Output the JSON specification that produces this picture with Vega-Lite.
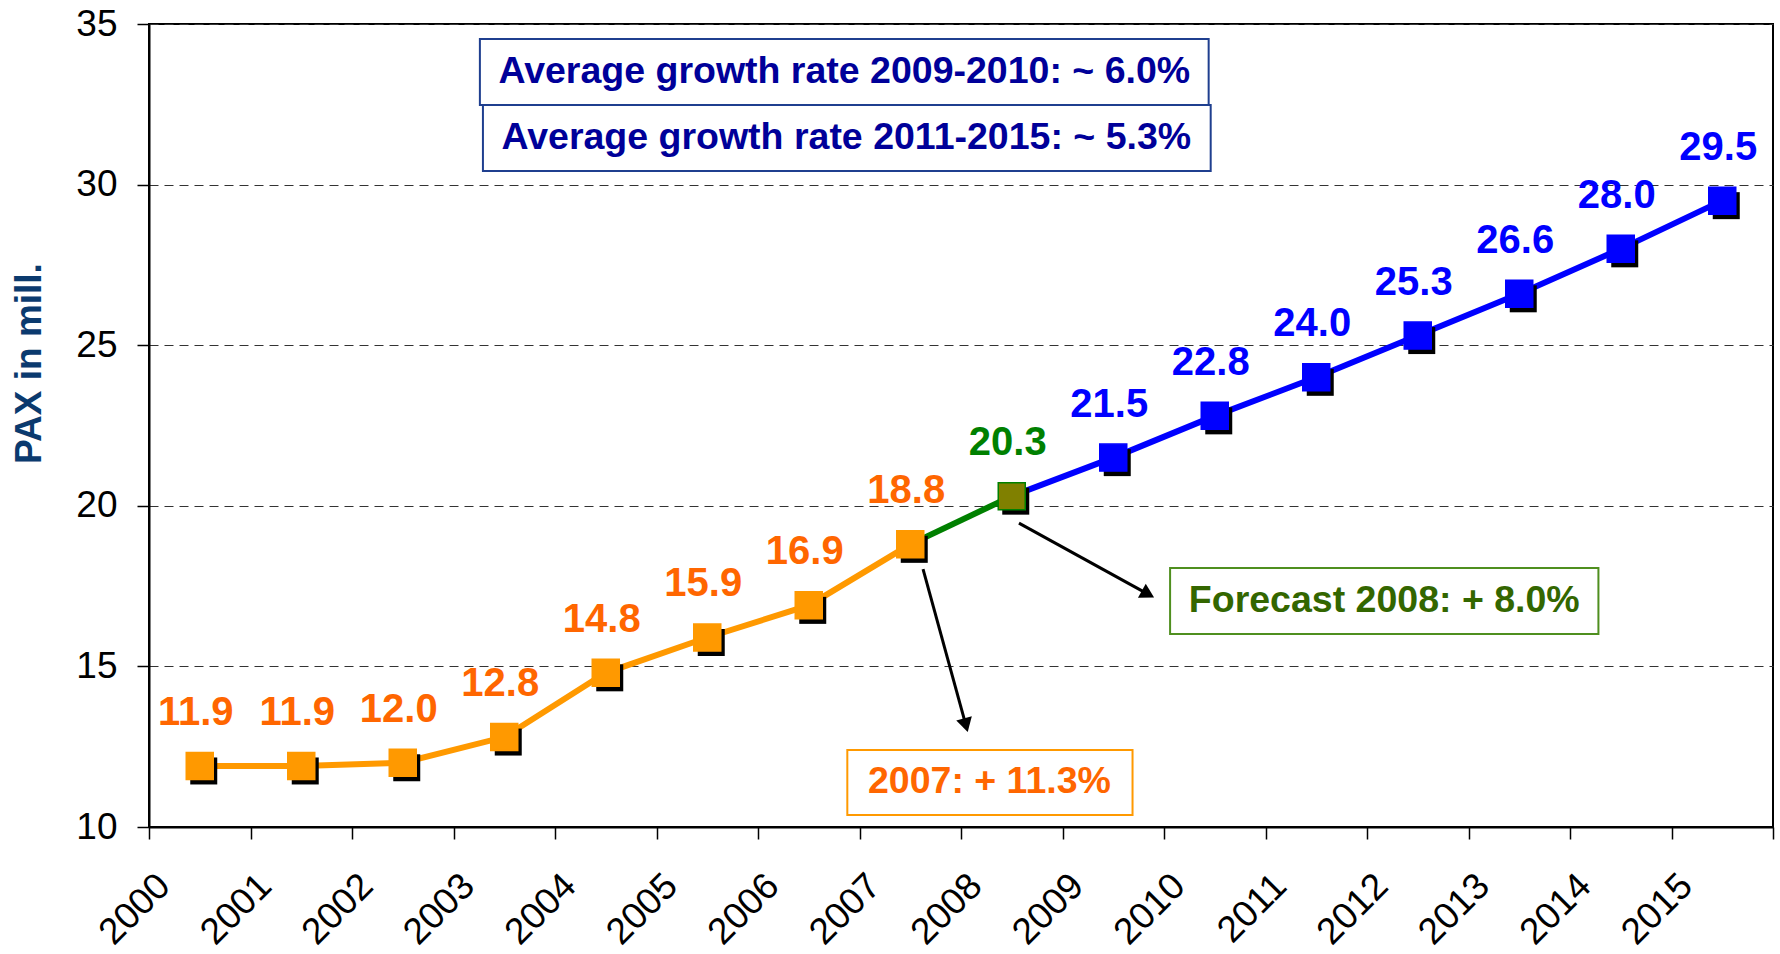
{
  "$schema": "https://vega.github.io/schema/vega-lite/v6.json",
  "width": 1624,
  "height": 803,
  "autosize": {"type": "none"},
  "padding": {"left": 149, "top": 24, "right": 7, "bottom": 127},
  "background": "white",
  "config": {
    "font": "Liberation Sans",
    "view": {"stroke": "black", "strokeWidth": 2},
    "axis": {
      "domainColor": "black", "domainWidth": 2,
      "tickColor": "black", "tickWidth": 1.5, "tickSize": 12,
      "labelColor": "black", "labelFont": "Liberation Sans", "labelFontSize": 37,
      "titleFont": "Liberation Sans"
    }
  },
  "datasets": {
    "pts": [
      {"year": "2000", "pax": 11.9, "grp": "actual"},
      {"year": "2001", "pax": 11.9, "grp": "actual"},
      {"year": "2002", "pax": 12.0, "grp": "actual"},
      {"year": "2003", "pax": 12.8, "grp": "actual"},
      {"year": "2004", "pax": 14.8, "grp": "actual"},
      {"year": "2005", "pax": 15.9, "grp": "actual"},
      {"year": "2006", "pax": 16.9, "grp": "actual"},
      {"year": "2007", "pax": 18.8, "grp": "actual"},
      {"year": "2008", "pax": 20.3, "grp": "2008"},
      {"year": "2009", "pax": 21.5, "grp": "forecast"},
      {"year": "2010", "pax": 22.8, "grp": "forecast"},
      {"year": "2011", "pax": 24.0, "grp": "forecast"},
      {"year": "2012", "pax": 25.3, "grp": "forecast"},
      {"year": "2013", "pax": 26.6, "grp": "forecast"},
      {"year": "2014", "pax": 28.0, "grp": "forecast"},
      {"year": "2015", "pax": 29.5, "grp": "forecast"}
    ],
    "segs": [
      {"year": "2000", "pax": 11.9, "seg": "actual"},
      {"year": "2001", "pax": 11.9, "seg": "actual"},
      {"year": "2002", "pax": 12.0, "seg": "actual"},
      {"year": "2003", "pax": 12.8, "seg": "actual"},
      {"year": "2004", "pax": 14.8, "seg": "actual"},
      {"year": "2005", "pax": 15.9, "seg": "actual"},
      {"year": "2006", "pax": 16.9, "seg": "actual"},
      {"year": "2007", "pax": 18.8, "seg": "actual"},
      {"year": "2007", "pax": 18.8, "seg": "2008"},
      {"year": "2008", "pax": 20.3, "seg": "2008"},
      {"year": "2008", "pax": 20.3, "seg": "forecast"},
      {"year": "2009", "pax": 21.5, "seg": "forecast"},
      {"year": "2010", "pax": 22.8, "seg": "forecast"},
      {"year": "2011", "pax": 24.0, "seg": "forecast"},
      {"year": "2012", "pax": 25.3, "seg": "forecast"},
      {"year": "2013", "pax": 26.6, "seg": "forecast"},
      {"year": "2014", "pax": 28.0, "seg": "forecast"},
      {"year": "2015", "pax": 29.5, "seg": "forecast"}
    ],
    "boxes": [
      {"kind": "avg", "label": "Average growth rate 2009-2010: ~ 6.0%", "x1": 2002.76, "x2": 2009.94, "y1": 34.53, "y2": 32.48, "tx": 2006.35, "ty": 33.51},
      {"kind": "avg", "label": "Average growth rate 2011-2015: ~ 5.3%", "x1": 2002.79, "x2": 2009.96, "y1": 32.48, "y2": 30.42, "tx": 2006.37, "ty": 31.45},
      {"kind": "fc", "label": "Forecast 2008: + 8.0%", "x1": 2009.56, "x2": 2013.78, "y1": 18.06, "y2": 16.01, "tx": 2011.67, "ty": 17.04},
      {"kind": "act", "label": "2007: + 11.3%", "x1": 2006.38, "x2": 2009.19, "y1": 12.40, "y2": 10.37, "tx": 2007.78, "ty": 11.39}
    ],
    "arrows": [
      {"id": "2007", "x1": 2007.126, "y1": 18.03, "hx": 2007.548, "hy": 13.17},
      {"id": "2008", "x1": 2008.071, "y1": 19.46, "hx": 2009.342, "hy": 17.25}
    ]
  },
  "resolve": {"scale": {"x": "independent", "color": "independent", "stroke": "independent", "fill": "independent"}, "axis": {"x": "independent"}},
  "layer": [
    {
      "resolve": {"scale": {"color": "independent"}},
      "layer": [
        {
          "data": {"name": "segs"},
          "mark": {"type": "line", "strokeWidth": 6},
          "encoding": {
            "x": {"field": "year", "type": "ordinal", "title": null, "scale": {"type": "band", "paddingInner": 0, "paddingOuter": 0},
                  "axis": {"title": null, "labelAngle": -45, "labelAlign": "right", "labelBaseline": "middle", "labelOffset": -36, "labelPadding": 41, "tickBand": "extent", "grid": false, "labelOverlap": false, "labelFlush": false}},
            "y": {"field": "pax", "type": "quantitative", "title": "PAX in mill.", "scale": {"domain": [10, 35], "nice": false, "zero": false},
                  "axis": {"values": [10, 15, 20, 25, 30, 35], "grid": true, "gridColor": "#333333", "gridDash": [9, 6], "gridWidth": 1, "labelPadding": 20, "titleFontSize": 37, "titleFontWeight": "bold", "titleColor": "#0B3A6E", "titleAngle": -90, "titleX": -120, "titleY": 339, "titleAlign": "center", "titleBaseline": "middle"}},
            "color": {"field": "seg", "type": "nominal", "scale": {"domain": ["actual", "2008", "forecast"], "range": ["#FF9900", "#008000", "#0000FF"]}, "legend": null},
            "detail": {"field": "seg"}
          }
        },
        {
          "data": {"name": "pts"},
          "mark": {"type": "point", "shape": "square", "filled": true, "size": 729, "color": "black", "opacity": 1, "xOffset": 4, "yOffset": 5},
          "encoding": {
            "x": {"field": "year", "type": "ordinal", "title": null, "scale": {"type": "band", "paddingInner": 0, "paddingOuter": 0},
                  "axis": {"title": null, "labelAngle": -45, "labelAlign": "right", "labelBaseline": "middle", "labelOffset": -36, "labelPadding": 41, "tickBand": "extent", "grid": false, "labelOverlap": false, "labelFlush": false}},
            "y": {"field": "pax", "type": "quantitative", "title": "PAX in mill.", "scale": {"domain": [10, 35], "nice": false, "zero": false}}
          }
        },
        {
          "data": {"name": "pts"},
          "mark": {"type": "point", "shape": "square", "filled": true, "size": 729, "opacity": 1, "strokeWidth": 1.5},
          "encoding": {
            "x": {"field": "year", "type": "ordinal", "title": null, "scale": {"type": "band", "paddingInner": 0, "paddingOuter": 0}},
            "y": {"field": "pax", "type": "quantitative", "title": "PAX in mill.", "scale": {"domain": [10, 35], "nice": false, "zero": false}},
            "fill": {"field": "grp", "type": "nominal", "scale": {"domain": ["actual", "2008", "forecast"], "range": ["#FF9900", "#808000", "#0000FF"]}, "legend": null},
            "stroke": {"field": "grp", "type": "nominal", "scale": {"domain": ["actual", "2008", "forecast"], "range": ["#FF9900", "#008000", "#0000FF"]}, "legend": null}
          }
        },
        {
          "data": {"name": "pts"},
          "mark": {"type": "text", "fontSize": 40, "fontWeight": "bold", "baseline": "middle", "align": "center", "dy": -53, "dx": -4},
          "encoding": {
            "x": {"field": "year", "type": "ordinal", "title": null, "scale": {"type": "band", "paddingInner": 0, "paddingOuter": 0}},
            "y": {"field": "pax", "type": "quantitative", "title": "PAX in mill.", "scale": {"domain": [10, 35], "nice": false, "zero": false}},
            "text": {"field": "pax", "type": "quantitative", "format": ".1f"},
            "color": {"field": "grp", "type": "nominal", "scale": {"domain": ["actual", "2008", "forecast"], "range": ["#FF6600", "#008000", "#0000FF"]}, "legend": null}
          }
        }
      ]
    },
    {
      "resolve": {"scale": {"color": "independent"}},
      "layer": [
        {
          "data": {"name": "boxes"},
          "mark": {"type": "rect", "fill": "white", "strokeWidth": 2},
          "encoding": {
            "x": {"field": "x1", "type": "quantitative", "scale": {"domain": [1999.5, 2015.5], "nice": false, "zero": false}, "axis": null},
            "x2": {"field": "x2"},
            "y": {"field": "y1", "type": "quantitative", "title": "PAX in mill.", "scale": {"domain": [10, 35], "nice": false, "zero": false}},
            "y2": {"field": "y2"},
            "stroke": {"field": "kind", "type": "nominal", "scale": {"domain": ["avg", "fc", "act"], "range": ["#1F3F8F", "#4F8F1F", "#FF9900"]}, "legend": null}
          }
        },
        {
          "data": {"name": "boxes"},
          "mark": {"type": "text", "fontSize": 37.5, "fontWeight": "bold", "baseline": "middle", "align": "center"},
          "encoding": {
            "x": {"field": "tx", "type": "quantitative", "scale": {"domain": [1999.5, 2015.5], "nice": false, "zero": false}, "axis": null},
            "y": {"field": "ty", "type": "quantitative", "title": "PAX in mill.", "scale": {"domain": [10, 35], "nice": false, "zero": false}},
            "text": {"field": "label"},
            "color": {"field": "kind", "type": "nominal", "scale": {"domain": ["avg", "fc", "act"], "range": ["#000099", "#336600", "#FF6600"]}, "legend": null}
          }
        },
        {
          "data": {"name": "arrows"},
          "mark": {"type": "rule", "strokeWidth": 3, "color": "black"},
          "encoding": {
            "x": {"field": "x1", "type": "quantitative", "scale": {"domain": [1999.5, 2015.5], "nice": false, "zero": false}, "axis": null},
            "x2": {"field": "hx"},
            "y": {"field": "y1", "type": "quantitative", "title": "PAX in mill.", "scale": {"domain": [10, 35], "nice": false, "zero": false}},
            "y2": {"field": "hy"}
          }
        },
        {
          "data": {"name": "arrows"},
          "transform": [{"filter": "datum.id == '2007'"}],
          "mark": {"type": "point", "shape": "triangle-up", "filled": true, "color": "black", "opacity": 1, "size": 260, "angle": 164.7},
          "encoding": {
            "x": {"field": "hx", "type": "quantitative", "scale": {"domain": [1999.5, 2015.5], "nice": false, "zero": false}, "axis": null},
            "y": {"field": "hy", "type": "quantitative", "title": "PAX in mill.", "scale": {"domain": [10, 35], "nice": false, "zero": false}}
          }
        },
        {
          "data": {"name": "arrows"},
          "transform": [{"filter": "datum.id == '2008'"}],
          "mark": {"type": "point", "shape": "triangle-up", "filled": true, "color": "black", "opacity": 1, "size": 260, "angle": 118.9},
          "encoding": {
            "x": {"field": "hx", "type": "quantitative", "scale": {"domain": [1999.5, 2015.5], "nice": false, "zero": false}, "axis": null},
            "y": {"field": "hy", "type": "quantitative", "title": "PAX in mill.", "scale": {"domain": [10, 35], "nice": false, "zero": false}}
          }
        }
      ]
    }
  ]
}
